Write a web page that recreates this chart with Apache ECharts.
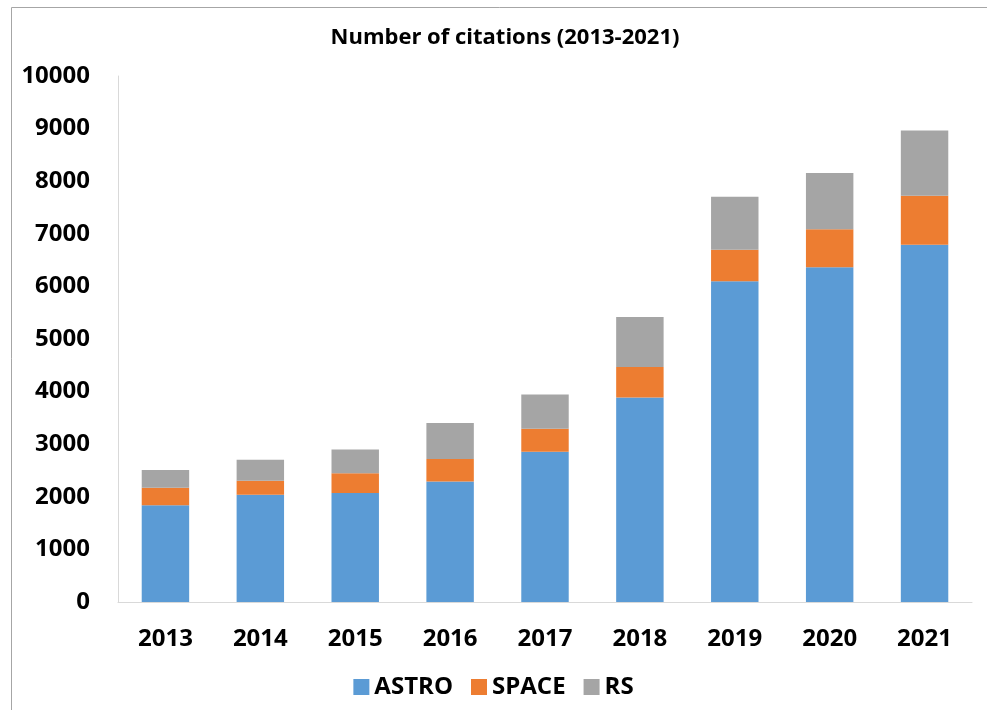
<!DOCTYPE html>
<html>
<head>
<meta charset="utf-8">
<style>
  html, body { margin: 0; padding: 0; background: #ffffff; }
  #chart { width: 987px; height: 710px; }
</style>
<script src="https://cdn.jsdelivr.net/npm/echarts@6/dist/echarts.min.js"></script>
</head>
<body>
<div id="chart"></div>
<script>
// Citation counts per year, stacked by field
const years = ['2013', '2014', '2015', '2016', '2017', '2018', '2019', '2020', '2021'];
const astro = [1840, 2040, 2070, 2290, 2855, 3890, 6100, 6365, 6790];
const space = [330, 265, 380, 430, 440, 580, 595, 720, 935];
const rs = [340, 400, 450, 685, 650, 950, 1010, 1070, 1240];
const yTicks = { min: 0, max: 10000, interval: 1000 };

const FONT = '"Open Sans", "DejaVu Sans", sans-serif';
const chart = echarts.init(document.getElementById('chart'), null, { renderer: 'canvas' });

function barSeries(name, data, color) {
  return {
    name: name,
    type: 'bar',
    stack: 'total',
    data: data,
    barCategoryGap: '50%',
    itemStyle: { color: color },
    emphasis: { disabled: true }
  };
}

chart.setOption({
  animation: false,
  backgroundColor: '#ffffff',
  title: {
    text: 'Number of citations (2013-2021)',
    left: 500,
    top: 22,
    textAlign: 'center',
    textStyle: { fontFamily: FONT, fontWeight: 'bold', fontSize: 22, color: '#000000' }
  },
  legend: {
    bottom: 6,
    left: 'center',
    itemWidth: 16,
    itemHeight: 16,
    itemGap: 18,
    icon: 'rect',
    textStyle: { fontFamily: FONT, fontWeight: 'bold', fontSize: 24, color: '#000000' },
    data: ['ASTRO', 'SPACE', 'RS']
  },
  grid: { left: 118, right: 15, top: 76, bottom: 108 },
  xAxis: {
    type: 'category',
    data: years,
    axisLine: { lineStyle: { color: '#d9d9d9', width: 1 } },
    axisTick: { show: false },
    axisLabel: { fontFamily: FONT, fontWeight: 'bold', fontSize: 24, color: '#000000', margin: 25 }
  },
  yAxis: {
    type: 'value',
    min: yTicks.min,
    max: yTicks.max,
    interval: yTicks.interval,
    splitLine: { show: false },
    axisLine: { show: true, lineStyle: { color: '#d9d9d9', width: 1 } },
    axisTick: { show: false },
    axisLabel: {
      fontFamily: FONT, fontWeight: 'bold', fontSize: 24, color: '#000000', margin: 28,
      formatter: function (v) { return String(v); }
    }
  },
  series: [
    barSeries('ASTRO', astro, '#5b9bd5'),
    barSeries('SPACE', space, '#ed7d31'),
    barSeries('RS', rs, '#a5a5a5')
  ],
  graphic: [
    { type: 'line', shape: { x1: 11.5, y1: 7.5, x2: 987, y2: 7.5 }, style: { stroke: '#a6a6a6', lineWidth: 1 }, silent: true },
    { type: 'line', shape: { x1: 11.5, y1: 7.5, x2: 11.5, y2: 710 }, style: { stroke: '#a6a6a6', lineWidth: 1 }, silent: true }
  ]
});
</script>
</body>
</html>
